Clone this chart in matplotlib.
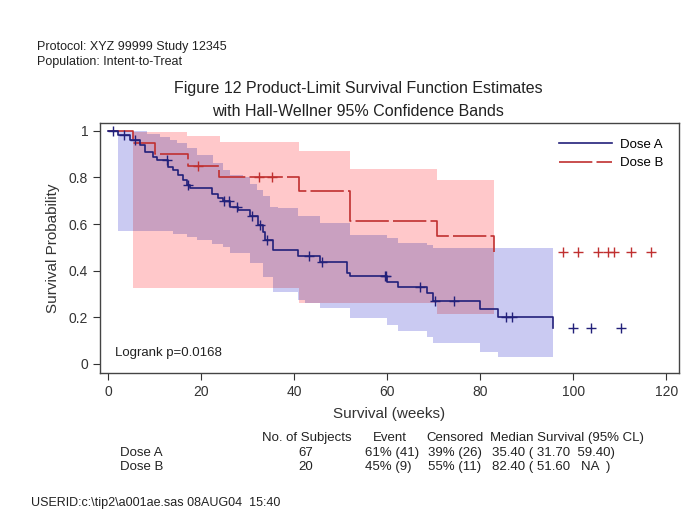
import numpy as np
import matplotlib
matplotlib.use('Agg')
import matplotlib.pyplot as plt
from matplotlib.lines import Line2D

plt.rcParams['font.family'] = ['Liberation Sans', 'DejaVu Sans']

# ---- data ----
# Dose A: Kaplan-Meier steps (weeks, survival)
a_time = [0, 2.2, 4.7, 6.9, 8.0, 9.7, 10.5, 12.9, 14.0, 15.1, 16.1, 17.0, 17.6, 22.4,
          23.7, 24.7, 26.2, 28.0, 30.5, 32.3, 33.3, 33.8, 35.5, 40.9, 45.6, 51.4,
          52.0, 60.0, 62.4, 68.6, 69.9, 80.0, 83.9, 95.7]
a_surv = [1.0, 0.983, 0.961, 0.940, 0.910, 0.888, 0.876, 0.845, 0.833, 0.811, 0.790,
          0.768, 0.755, 0.730, 0.712, 0.700, 0.674, 0.661, 0.635, 0.597, 0.567, 0.532,
          0.489, 0.464, 0.438, 0.391, 0.378, 0.352, 0.330, 0.305, 0.270, 0.236, 0.202, 0.155]
a_cens = [1.1, 3.4, 5.8, 12.6, 17.2, 24.9, 26.0, 27.7, 31.0, 32.7, 34.2, 43.2, 46.0,
          59.6, 59.8, 67.1, 70.2, 74.4, 85.6, 86.9, 100.0, 103.9, 110.3]
# Dose A Hall-Wellner band
a_up_time = [2.2, 8.4, 11.2, 13.3, 14.8, 17.0, 19.1, 22.6, 24.7, 26.2, 29.0, 30.5, 32.0,
             33.3, 34.8, 36.6, 40.9, 45.6, 52.0, 60.0, 62.4, 68.6, 69.9]
a_up = [1.0, 0.987, 0.974, 0.961, 0.948, 0.927, 0.897, 0.863, 0.833, 0.811, 0.803, 0.773,
        0.747, 0.721, 0.675, 0.67, 0.635, 0.605, 0.554, 0.541, 0.519, 0.511, 0.498]
a_lo_time = [2.2, 14.0, 17.0, 19.1, 22.4, 24.7, 26.2, 30.5, 33.3, 35.5, 40.9, 42.4, 45.6,
             52.0, 60.0, 62.4, 68.6, 69.9, 80.0, 83.9]
a_lo = [0.571, 0.558, 0.545, 0.53, 0.515, 0.50, 0.476, 0.433, 0.373, 0.31, 0.275, 0.26,
        0.24, 0.197, 0.167, 0.142, 0.116, 0.09, 0.052, 0.03]
a_band_end = 95.7

# Dose B
b_time = [0, 5.4, 10.1, 17.2, 23.9, 41.1, 52.0, 70.7, 83.0]
b_surv = [1.0, 0.95, 0.90, 0.85, 0.80, 0.74, 0.615, 0.55, 0.48]
b_cens = [19.4, 32.5, 35.3, 97.8, 101.1, 105.4, 107.5, 108.8, 112.3, 116.6]
b_up_time = [5.4, 17.0, 24.0, 41.1, 52.0, 70.7]
b_up = [0.995, 0.98, 0.953, 0.914, 0.837, 0.79]
b_lo_time = [5.4, 41.1, 70.7]
b_lo = [0.326, 0.262, 0.215]
b_band_end = 83.0

# summary table
groups = ['Dose A', 'Dose B']
n_subj = ['67', '20']
events = ['61% (41)', '45% (9)']
censored = ['39% (26)', '55% (11)']
median_cl = ['35.40 ( 31.70  59.40)', '82.40 ( 51.60   NA  )']

blue_line = '#22207a'
red_line = '#c03030'
blue_band = '#cacaf2'
red_band = '#ffc8ca'
both_band = '#c9a0c0'


def step_at(tk, vals, t):
    idx = np.searchsorted(tk, t, side='right') - 1
    idx = np.clip(idx, 0, len(vals) - 1)
    return np.asarray(vals)[idx]


def band_grid(up_t, lo_t, end):
    return np.union1d(np.union1d(up_t, lo_t), [end])


fig = plt.figure(figsize=(6.98, 5.29), dpi=100)
W, H = 698, 529
ax = fig.add_axes([100 / W, 1 - 373 / H, 579 / W, 250 / H])

# bands
ga = band_grid(a_up_time, a_lo_time, a_band_end)
ax.fill_between(ga, step_at(a_lo_time, a_lo, ga), step_at(a_up_time, a_up, ga),
                step='post', color=blue_band, lw=0)
gb = band_grid(b_up_time, b_lo_time, b_band_end)
ax.fill_between(gb, step_at(b_lo_time, b_lo, gb), step_at(b_up_time, b_up, gb),
                step='post', color=red_band, lw=0)
# overlap of both bands
g = np.union1d(ga, gb)
g = g[(g >= max(a_up_time[0], b_up_time[0])) & (g <= min(a_band_end, b_band_end))]
lo = np.maximum(step_at(a_lo_time, a_lo, g), step_at(b_lo_time, b_lo, g))
up = np.minimum(step_at(a_up_time, a_up, g), step_at(b_up_time, b_up, g))
up = np.maximum(up, lo)
ax.fill_between(g, lo, up, step='post', color=both_band, lw=0)

# survival curves
ax.step(b_time, b_surv, where='post', color=red_line, lw=1.2, linestyle=(0, (20, 2.5)))
ax.step(a_time, a_surv, where='post', color=blue_line, lw=1.2)
ax.plot(a_cens, step_at(a_time, a_surv, a_cens), '+', color=blue_line, ms=6.5, mew=1)
ax.plot(b_cens, step_at(b_time, b_surv, b_cens), '+', color=red_line, ms=6.5, mew=1)

ax.set_xlim(-1.7, 122.7)
ax.set_ylim(-0.04, 1.034)
ax.set_xticks([0, 20, 40, 60, 80, 100, 120])
ax.set_yticks([0, 0.2, 0.4, 0.6, 0.8, 1.0])
ax.set_yticklabels(['0', '0.2', '0.4', '0.6', '0.8', '1'])
ax.tick_params(direction='out', length=5, width=0.8, colors='#333333', labelsize=10,
               labelcolor='#333333')
for s in ax.spines.values():
    s.set_color('#444444')
    s.set_linewidth(1.0)
ax.set_xlabel('Survival (weeks)', fontsize=11, color='#333333', labelpad=6)
ax.set_ylabel('Survival Probability', fontsize=11, color='#333333', labelpad=6)

ax.text(1.5, 0.035, 'Logrank p=0.0168', fontsize=9.5, color='#222222')

handles = [Line2D([], [], color=blue_line, lw=1.2),
           Line2D([], [], color=red_line, lw=1.2, linestyle=(0, (20, 2.5)))]
ax.legend(handles, ['Dose A', 'Dose B'], loc='upper right', frameon=False,
          handlelength=4.0, handletextpad=0.6, fontsize=9.5, labelspacing=0.45,
          borderaxespad=0.8)


def ftext(x, y, s, **kw):
    fig.text(x / W, 1 - y / H, s, va='center', **kw)


ftext(37, 47, 'Protocol: XYZ 99999 Study 12345', fontsize=9, color='#222222')
ftext(37, 62, 'Population: Intent-to-Treat', fontsize=9, color='#222222')
ftext(358, 89, 'Figure 12 Product-Limit Survival Function Estimates', fontsize=11.5,
      ha='center', color='#222222')
ftext(358, 111, 'with Hall-Wellner 95% Confidence Bands', fontsize=11.5,
      ha='center', color='#222222')

# summary table
tfs = 9.5
ftext(262, 438, 'No. of Subjects', fontsize=tfs, color='#222222')
ftext(373, 438, 'Event', fontsize=tfs, color='#222222')
ftext(426, 438, 'Censored', fontsize=tfs, color='#222222')
ftext(490, 438, 'Median Survival (95% CL)', fontsize=tfs, color='#222222')
for i, grp in enumerate(groups):
    y = 453 + 14 * i
    ftext(120, y, grp, fontsize=tfs, color='#222222')
    ftext(306, y, n_subj[i], fontsize=tfs, ha='center', color='#222222')
    ftext(365, y, events[i], fontsize=tfs, color='#222222')
    ftext(428, y, censored[i], fontsize=tfs, color='#222222')
    ftext(492, y, median_cl[i], fontsize=tfs, color='#222222')

ftext(31, 503, 'USERID:c:\\tip2\\a001ae.sas 08AUG04  15:40', fontsize=9, color='#222222')

fig.savefig('out.png', dpi=100)
